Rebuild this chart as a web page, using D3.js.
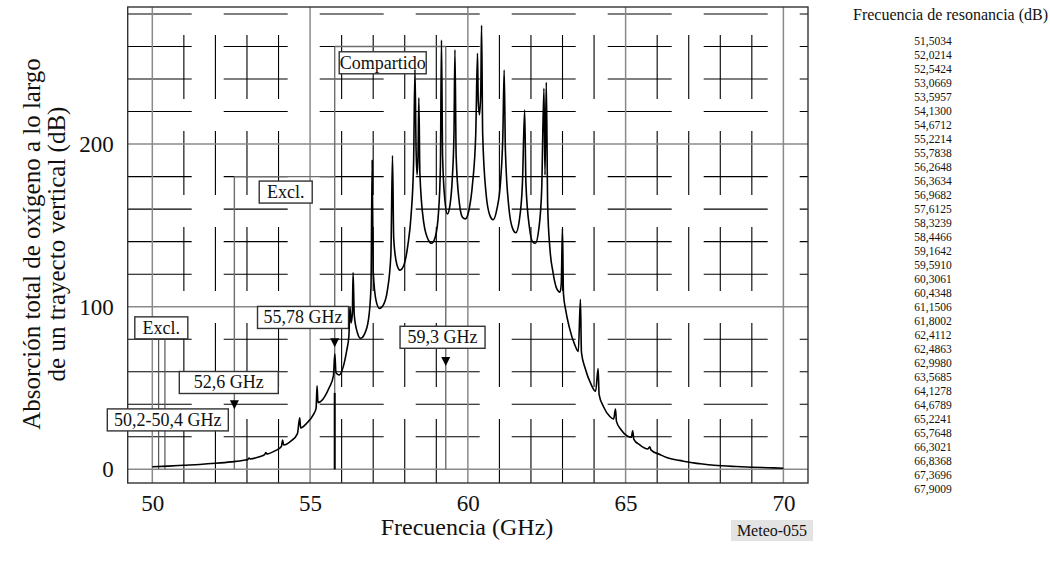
<!DOCTYPE html>
<html>
<head>
<meta charset="utf-8">
<script src="https://cdn.jsdelivr.net/npm/d3@7"></script>
<style>
  body { margin: 0; background: #fff; }
  svg { display: block; font-family: "Liberation Serif", "Times New Roman", serif; }
</style>
</head>
<body>
<svg id="chart" width="1050" height="562"></svg>
<script>
// Total oxygen absorption along a vertical path, 50-70 GHz
const freqGHz = [
  50.00, 50.50, 51.00, 51.50, 52.00, 52.50, 52.90, 53.03, 53.067, 53.10,
  53.40, 53.56, 53.596, 53.63, 53.90, 54.09, 54.13, 54.16, 54.40, 54.60,
  54.671, 54.70, 54.90, 55.10, 55.19, 55.221, 55.25, 55.40, 55.60, 55.74,
  55.784, 55.82, 55.92, 56.05, 56.16, 56.23, 56.265, 56.30, 56.34, 56.363,
  56.40, 56.50, 56.60, 56.72, 56.85, 56.93, 56.968, 57.00, 57.10, 57.20,
  57.32, 57.45, 57.56, 57.612, 57.65, 57.75, 57.85, 57.98, 58.10, 58.20,
  58.28, 58.324, 58.36, 58.39, 58.42, 58.447, 58.48, 58.60, 58.75, 58.85,
  58.97, 59.07, 59.13, 59.164, 59.20, 59.27, 59.35, 59.43, 59.51, 59.56,
  59.591, 59.63, 59.73, 59.83, 59.92, 60.03, 60.15, 60.25, 60.306, 60.33,
  60.37, 60.41, 60.435, 60.47, 60.58, 60.70, 60.80, 60.92, 61.04, 61.11,
  61.151, 61.19, 61.30, 61.42, 61.52, 61.63, 61.73, 61.800, 61.84, 61.95,
  62.05, 62.14, 62.25, 62.34, 62.411, 62.445, 62.486, 62.53, 62.60, 62.70,
  62.82, 62.92, 62.96, 62.998, 63.03, 63.10, 63.22, 63.38, 63.50, 63.568,
  63.60, 63.72, 63.90, 64.05, 64.128, 64.16, 64.30, 64.50, 64.62, 64.679,
  64.71, 64.85, 65.05, 65.18, 65.224, 65.26, 65.45, 65.70, 65.765, 65.80,
  66.10, 66.302, 66.35, 66.70, 66.837, 67.20, 67.37, 67.80, 68.50, 69.00,
  69.50, 70.00
];
const absorptionDb = [
  1.6, 2.0, 2.5, 3.0, 3.7, 4.6, 5.6, 6.1, 7.0, 6.4,
  7.8, 9.0, 10.4, 9.5, 11.5, 14.0, 18.0, 15.0, 17.5, 22.0,
  31.7, 25.5, 28.5, 33.5, 37.5, 51.4, 41.0, 43.0, 50.0, 57.5,
  71.0, 59.5, 58.0, 63.0, 73.0, 82.0, 100.0, 90.0, 96.0, 121.0,
  95.0, 84.0, 80.6, 83.0, 92.0, 112.0, 190.0, 122.0, 103.0, 99.0,
  101.0, 110.0, 132.0, 193.0, 142.0, 126.0, 122.5, 126.0, 138.0, 156.0,
  188.0, 246.0, 196.0, 181.0, 192.0, 228.5, 182.0, 152.0, 141.0, 139.0,
  143.0, 158.0, 186.0, 264.0, 192.0, 166.0, 157.0, 162.0, 180.0, 206.0,
  258.0, 192.0, 164.0, 155.0, 154.0, 159.0, 176.0, 206.0, 255.8, 226.0,
  218.0, 233.0, 273.0, 206.0, 169.0, 156.0, 153.5, 160.0, 178.0, 206.0,
  245.6, 196.0, 161.0, 148.0, 145.5, 153.0, 176.0, 221.0, 176.0, 149.0,
  140.0, 139.0, 148.0, 172.0, 234.3, 181.0, 238.0, 162.0, 136.0, 121.0,
  111.0, 109.0, 114.0, 148.0, 108.0, 98.0, 87.0, 77.0, 72.5, 104.5,
  72.0, 62.0, 52.5, 48.0, 62.0, 46.0, 38.5, 32.5, 31.0, 37.0,
  29.5, 24.5, 20.5, 19.7, 23.7, 18.5, 15.0, 12.5, 13.9, 12.0,
  9.0, 7.3, 7.0, 5.5, 5.0, 3.8, 3.4, 2.5, 1.7, 1.3,
  1.0, 0.7
];

// Oxygen resonance lines listed beside the chart
const resonanceGHz = [
  51.5034, 52.0214, 52.5424, 53.0669, 53.5957, 54.1300, 54.6712, 55.2214,
  55.7838, 56.2648, 56.3634, 56.9682, 57.6125, 58.3239, 58.4466, 59.1642,
  59.5910, 60.3061, 60.4348, 61.1506, 61.8002, 62.4112, 62.4863, 62.9980,
  63.5685, 64.1278, 64.6789, 65.2241, 65.7648, 66.3021, 66.8368, 67.3696,
  67.9009
];

const xTicks = [50, 55, 60, 65, 70];
const yTicks = [0, 100, 200];

// Band edges (GHz) and bracket heights (dB)
const exclLowBand = [50.2, 50.4];
const bandMarkers = [52.6, 55.78, 59.3];
const bracketLevelsDb = [180, 260];   // Excl. (52.6-55.78), Compartido (55.78-59.3)
const arrowTipsDb = [37, 75, 63.5];   // arrow tips on each marker
const exclLowTopDb = 80;

const annotations = [
  { text: "50,2-50,4 GHz", f: 50.491, db: 30.4, w: 121 },
  { text: "52,6 GHz",      f: 52.424, db: 53.4, w: 99 },
  { text: "55,78 GHz",     f: 54.776, db: 93.4, w: 91 },
  { text: "59,3 GHz",      f: 59.198, db: 81.2, w: 85 },
  { text: "Compartido",    f: 57.302, db: 250.0, w: 87 },
  { text: "Excl.",         f: 54.228, db: 170.5, w: 53 },
  { text: "Excl.",         f: 50.285, db: 87.0, w: 53 }
];

const svg = d3.select("#chart");
const plot = { left: 127.7, right: 808, top: 7, bottom: 483 };

const x = d3.scaleLinear().domain([49.22, 70.78]).range([plot.left, plot.right]);
const y = d3.scaleLinear().domain([-8.4, 284.3]).range([plot.bottom, plot.top]);

const gridGray = "#8a8a8a";

// Minor grid: dashed black lines every 1 GHz and every 20 dB
const minorX = d3.range(51, 70).filter(v => v % 5 !== 0);
const minorY = d3.range(20, 284, 20).filter(v => v % 100 !== 0);

const grid = svg.append("g");
grid.selectAll("line.hx").data(minorY).join("line")
  .attr("x1", plot.left).attr("x2", plot.right)
  .attr("y1", d => y(d)).attr("y2", d => y(d))
  .attr("stroke", "#000").attr("stroke-width", 1.1)
  .attr("stroke-dasharray", "64,32");
grid.selectAll("line.vx").data(minorX).join("line")
  .attr("x1", d => x(d)).attr("x2", d => x(d))
  .attr("y1", plot.bottom).attr("y2", plot.top)
  .attr("stroke", "#000").attr("stroke-width", 1.1)
  .attr("stroke-dasharray", "64,32");

// Major grid: solid gray
grid.selectAll("line.mx").data(xTicks).join("line")
  .attr("x1", d => x(d)).attr("x2", d => x(d))
  .attr("y1", plot.top).attr("y2", plot.bottom)
  .attr("stroke", gridGray).attr("stroke-width", 1.5);
grid.selectAll("line.my").data(yTicks).join("line")
  .attr("x1", plot.left).attr("x2", plot.right)
  .attr("y1", d => y(d)).attr("y2", d => y(d))
  .attr("stroke", gridGray).attr("stroke-width", 1.5);

// Band markers and brackets
const marks = svg.append("g").attr("stroke", "#6e6e6e").attr("stroke-width", 1.4).attr("fill", "none");
marks.append("line")
  .attr("x1", x(bandMarkers[0])).attr("x2", x(bandMarkers[0]))
  .attr("y1", y(0)).attr("y2", y(bracketLevelsDb[0]));
marks.append("line")
  .attr("x1", x(bandMarkers[0])).attr("x2", x(bandMarkers[1]))
  .attr("y1", y(bracketLevelsDb[0])).attr("y2", y(bracketLevelsDb[0]));
marks.append("line")
  .attr("x1", x(bandMarkers[1])).attr("x2", x(bandMarkers[1]))
  .attr("y1", y(0)).attr("y2", y(bracketLevelsDb[1]));
marks.append("line")
  .attr("x1", x(bandMarkers[2])).attr("x2", x(bandMarkers[2]))
  .attr("y1", y(0)).attr("y2", y(bracketLevelsDb[1]));
marks.append("line")
  .attr("x1", x(bandMarkers[1])).attr("x2", x(bandMarkers[2]))
  .attr("y1", y(bracketLevelsDb[1])).attr("y2", y(bracketLevelsDb[1]));
exclLowBand.forEach(f => {
  marks.append("line")
    .attr("x1", x(f)).attr("x2", x(f))
    .attr("y1", y(0)).attr("y2", y(exclLowTopDb))
    .attr("stroke", "#555").attr("stroke-width", 1.2);
});
// heavier foot on the 55,78 GHz marker
svg.append("line")
  .attr("x1", x(bandMarkers[1])).attr("x2", x(bandMarkers[1]))
  .attr("y1", y(0)).attr("y2", y(47))
  .attr("stroke", "#000").attr("stroke-width", 2);

// Frame
svg.append("rect")
  .attr("x", plot.left).attr("y", plot.top)
  .attr("width", plot.right - plot.left).attr("height", plot.bottom - plot.top)
  .attr("fill", "none").attr("stroke", "#333").attr("stroke-width", 1.4);

// Annotation boxes
const boxH = 22;
const boxes = svg.append("g");
annotations.forEach(a => {
  const cx = x(a.f), cy = y(a.db);
  boxes.append("rect")
    .attr("x", cx - a.w / 2).attr("y", cy - boxH / 2)
    .attr("width", a.w).attr("height", boxH)
    .attr("fill", "#fff").attr("stroke", "#333").attr("stroke-width", 1.4);
  boxes.append("text")
    .attr("x", cx).attr("y", cy + 6)
    .attr("text-anchor", "middle")
    .attr("font-size", 18).attr("fill", "#111")
    .text(a.text);
});

// Absorption curve
const line = d3.line()
  .x((d, i) => x(freqGHz[i]))
  .y((d, i) => y(absorptionDb[i]))
  .curve(d3.curveMonotoneX);
svg.append("path")
  .datum(freqGHz)
  .attr("d", line)
  .attr("fill", "none")
  .attr("stroke", "#000")
  .attr("stroke-width", 1.6)
  .attr("stroke-linejoin", "round");

// Arrow heads pointing down at each marker
bandMarkers.forEach((f, i) => {
  const tx = x(f), ty = y(arrowTipsDb[i]);
  svg.append("path")
    .attr("d", `M${tx - 4.5},${ty - 9}L${tx + 4.5},${ty - 9}L${tx},${ty}Z`)
    .attr("fill", "#000");
});

// Axes (labels only)
const xAxis = svg.append("g")
  .attr("transform", `translate(0,${plot.bottom})`)
  .call(d3.axisBottom(x).tickValues(xTicks).tickSize(0).tickPadding(12).tickFormat(d3.format("d")));
const yAxis = svg.append("g")
  .attr("transform", `translate(${plot.left},0)`)
  .call(d3.axisLeft(y).tickValues(yTicks).tickSize(0).tickPadding(14).tickFormat(d3.format("d")));
[xAxis, yAxis].forEach(g => {
  g.select(".domain").remove();
  g.selectAll("text")
    .attr("font-family", "Liberation Serif, serif")
    .attr("font-size", 23).attr("fill", "#111");
});

// Axis titles
svg.append("text")
  .attr("x", 467).attr("y", 535)
  .attr("text-anchor", "middle")
  .attr("font-size", 24).attr("fill", "#111")
  .text("Frecuencia (GHz)");
const yTitle = svg.append("text")
  .attr("transform", "translate(0,244) rotate(-90)")
  .attr("text-anchor", "middle")
  .attr("font-size", 25).attr("fill", "#111");
yTitle.append("tspan").attr("x", 0).attr("y", 40).text("Absorción total de oxígeno a lo largo");
yTitle.append("tspan").attr("x", 0).attr("y", 65).text("de un trayecto vertical (dB)");

// Figure code tag
svg.append("rect").attr("x", 731).attr("y", 520).attr("width", 82).attr("height", 21).attr("fill", "#e3e3e3");
svg.append("text")
  .attr("x", 772).attr("y", 536)
  .attr("text-anchor", "middle")
  .attr("font-size", 16).attr("fill", "#111")
  .text("Meteo-055");

// Resonance frequency list
svg.append("text")
  .attr("x", 853).attr("y", 20)
  .attr("font-size", 16).attr("fill", "#111")
  .text("Frecuencia de resonancia (dB)");
const esFmt = d3.formatLocale({ decimal: ",", thousands: ".", grouping: [3], currency: ["", "€"] }).format(".4f");
svg.append("g").selectAll("text").data(resonanceGHz).join("text")
  .attr("x", 933)
  .attr("y", (d, i) => 45 + i * 14)
  .attr("text-anchor", "middle")
  .attr("font-size", 11.5).attr("fill", "#111")
  .text(d => esFmt(d));
</script>
</body>
</html>
